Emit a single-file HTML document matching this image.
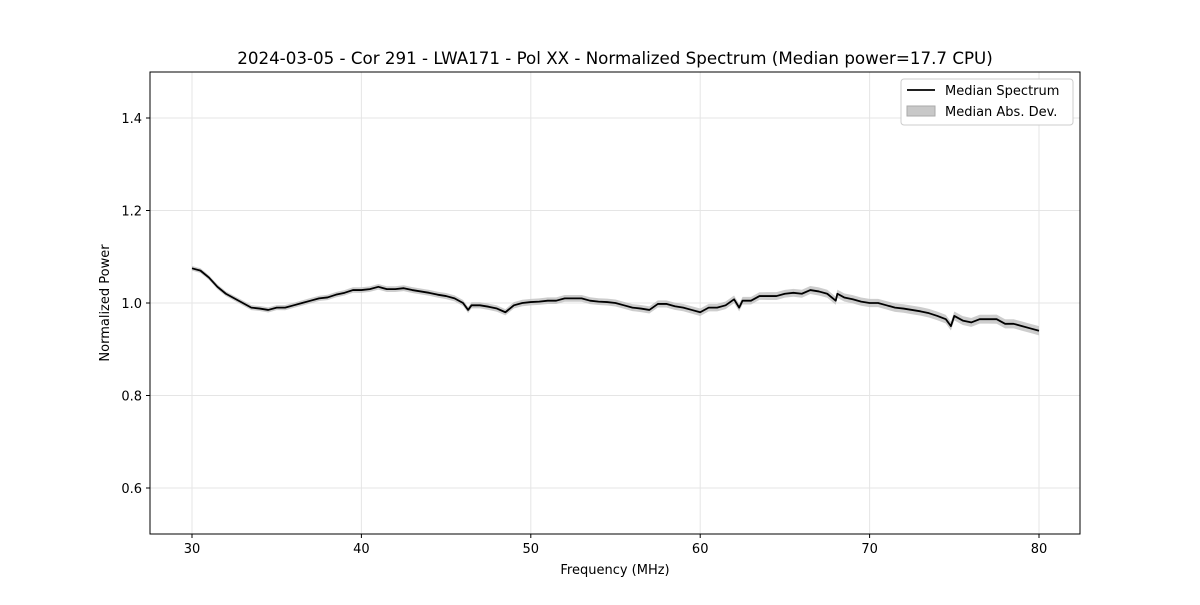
<!DOCTYPE html>
<html><head><meta charset="utf-8"><style>
body{margin:0;background:#fff;font-family:"Liberation Sans","DejaVu Sans",sans-serif}
text{font-family:"DejaVu Sans","Liberation Sans",sans-serif}
</style></head><body>
<svg id="chart" width="1200" height="600">
<rect width="1200" height="600" fill="#fff"/>
<g id="grid"></g><g id="band"></g><g id="line"></g><g id="axes"></g>
<text x="615" y="64" text-anchor="middle" font-size="16.7">2024-03-05 - Cor 291 - LWA171 - Pol XX - Normalized Spectrum (Median power=17.7 CPU)</text>
<text x="615" y="574" text-anchor="middle" font-size="13">Frequency (MHz)</text>
<text x="109" y="303" text-anchor="middle" font-size="13" transform="rotate(-90 109 303)">Normalized Power</text>
<g>
<rect x="901" y="79" width="172" height="46" rx="3" fill="#fff" stroke="#ccc"/>
<line x1="907" y1="90" x2="935" y2="90" stroke="#000" stroke-width="1.8"/>
<text x="945" y="95" font-size="13">Median Spectrum</text>
<rect x="907" y="106" width="28" height="10" fill="#c8c8c8" stroke="#aaa"/>
<text x="945" y="116" font-size="13">Median Abs. Dev.</text>
</g>
</svg>
<script>
const freqs=[30,30.5,31,31.5,32,32.5,33,33.5,34,34.5,35,35.5,36,36.5,37,37.5,38,38.5,39,39.5,40,40.5,41,41.5,42,42.5,43,43.5,44,44.5,45,45.5,46,46.3,46.5,47,47.5,48,48.5,49,49.5,50,50.5,51,51.5,52,52.5,53,53.5,54,54.5,55,55.5,56,56.5,57,57.5,58,58.5,59,59.5,60,60.5,61,61.5,62,62.3,62.5,63,63.5,64,64.5,65,65.5,66,66.5,67,67.5,68,68.1,68.5,69,69.5,70,70.5,71,71.5,72,72.5,73,73.5,74,74.5,74.8,75,75.5,76,76.5,77,77.5,78,78.5,79,79.5,80];
const power=[1.075,1.07,1.055,1.035,1.02,1.01,1.0,0.99,0.988,0.985,0.99,0.99,0.995,1.0,1.005,1.01,1.012,1.018,1.022,1.028,1.028,1.03,1.035,1.03,1.03,1.032,1.028,1.025,1.022,1.018,1.015,1.01,1.0,0.985,0.995,0.995,0.992,0.988,0.98,0.995,1.0,1.002,1.003,1.005,1.005,1.01,1.01,1.01,1.005,1.003,1.002,1.0,0.995,0.99,0.988,0.985,0.998,0.998,0.993,0.99,0.985,0.98,0.99,0.99,0.995,1.008,0.99,1.005,1.005,1.015,1.015,1.015,1.02,1.022,1.02,1.028,1.025,1.02,1.005,1.02,1.012,1.008,1.003,1.0,1.0,0.995,0.99,0.988,0.985,0.982,0.978,0.972,0.965,0.95,0.972,0.962,0.958,0.965,0.965,0.965,0.955,0.955,0.95,0.945,0.94];
const madWidth=[0.005,0.01];
const xTicks=[30,40,50,60,70,80];
const yTicks=[0.6,0.8,1.0,1.2,1.4];
const xs=v=>192+(v-30)*(1039-192)/50;
const ys=v=>303-(v-1)*462.5;
const NS='http://www.w3.org/2000/svg';
function mk(tag,attrs,parent){const e=document.createElementNS(NS,tag);for(const k in attrs)e.setAttribute(k,attrs[k]);parent.appendChild(e);return e;}
const grid=document.getElementById('grid'),axes=document.getElementById('axes');
xTicks.forEach(t=>{const X=xs(t);
 const g=mk('line',{x1:X,x2:X,y1:72,y2:534,stroke:'#e5e5e5'},grid);
 
 
 mk('line',{x1:X,x2:X,y1:534,y2:538,stroke:'#000'},axes);
 const l=mk('text',{x:X,y:553,'text-anchor':'middle','font-size':13},axes);l.textContent=t;
 
 });
yTicks.forEach(t=>{const Y=ys(t);
 const g=mk('line',{x1:150,x2:1080,y1:Y,y2:Y,stroke:'#e5e5e5'},grid);
 
 
 mk('line',{x1:146,x2:150,y1:Y,y2:Y,stroke:'#000'},axes);
 const l=mk('text',{x:142,y:Y+5,'text-anchor':'end','font-size':13},axes);l.textContent=t.toFixed(1);
 
 });
const frame=mk('rect',{x:150,y:72,width:930,height:462,fill:'none',stroke:'#000'},axes);


const mad=i=>madWidth[0]+(madWidth[1]-madWidth[0])*(freqs[i]-30)/50;
let up=freqs.map((f,i)=>xs(f)+','+ys(power[i]+mad(i)));
let dn=freqs.map((f,i)=>xs(f)+','+ys(power[i]-mad(i))).reverse();
const band=mk('polygon',{points:up.concat(dn).join(' '),fill:'#c0c0c0','fill-opacity':0.8},document.getElementById('band'));


const line=mk('polyline',{points:freqs.map((f,i)=>xs(f)+','+ys(power[i])).join(' '),fill:'none',stroke:'#000','stroke-width':1.8,'stroke-linejoin':'round'},document.getElementById('line'));


</script>
</body></html>
